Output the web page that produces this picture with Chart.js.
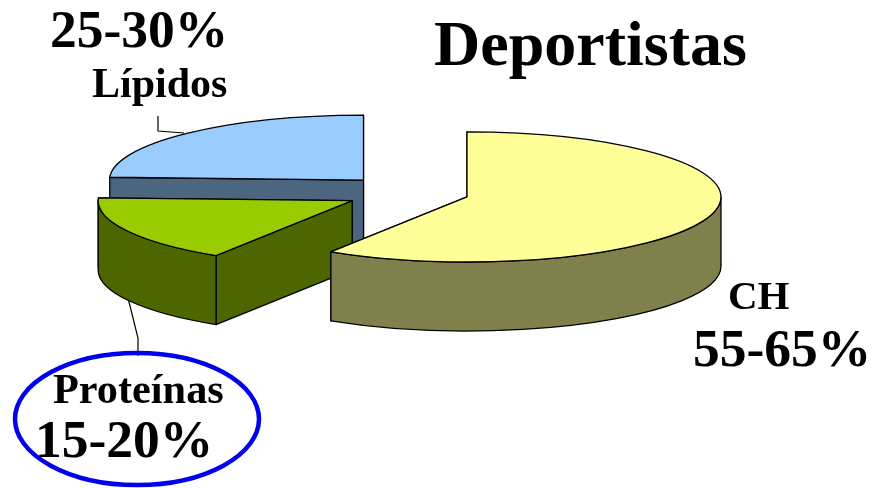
<!DOCTYPE html>
<html>
<head>
<meta charset="utf-8">
<title>Deportistas</title>
<style>
  html, body { margin: 0; padding: 0; background: #fff; }
  #wrap { width: 880px; height: 488px; }
</style>
<script src="https://cdn.jsdelivr.net/npm/chart.js@4"></script>
</head>
<body>
<div id="wrap"><canvas id="pie" width="880" height="488"></canvas></div>
<script>
// Nutrient shares for athletes
const categories = ['CH', 'Proteínas', 'Lípidos'];
const shares = [59, 16.7, 24.3];
const ranges = ['55-65%', '15-20%', '25-30%'];
const topColors = ['#FFFF99', '#99CC00', '#99CCFF'];
const wallColors = ['#80804D', '#4D6600', '#4D6680'];
const explode = [58.3, 66.4, 68.7];
const paintOrder = [2, 1, 0];

// Pseudo-3D shape of the pie
const tilt = 0.256;
const depth = 69;
const pieRadius = 254;

const serif = '"Liberation Serif", "Times New Roman", serif';

// Text blocks: [string, x, baseline y, font size]
const chartTitle = ['Deportistas', 434, 65, 64];
const captions = [
  [ranges[2], 50, 47, 53.5],
  [categories[2], 92, 97, 42],
  [categories[0], 728, 309, 41],
  [ranges[0], 693, 366, 53.5],
  [categories[1], 53, 403, 42.3],
  [ranges[1], 35, 457, 53.5]
];
const leaders = [
  [[158, 116], [158, 131], [184, 133]],
  [[128, 298], [138, 338], [138, 356]]
];
const highlight = { x: 137, y: 419, rx: 122, ry: 66, color: '#0000EE', width: 4.5 };

function sliceGeometry(arc, i) {
  const mid = (arc.startAngle + arc.endAngle) / 2;
  const cx = arc.x + Math.cos(mid) * explode[i];
  const cy = arc.y + Math.sin(mid) * explode[i] * tilt;
  return { cx, cy, rx: arc.outerRadius, ry: arc.outerRadius * tilt, mid };
}

function drawSlice(ctx, arc, i) {
  const g = sliceGeometry(arc, i);
  const px = a => g.cx + Math.cos(a) * g.rx;
  const py = a => g.cy + Math.sin(a) * g.ry;

  ctx.lineWidth = 1.3;
  ctx.lineJoin = 'round';
  ctx.strokeStyle = '#000';
  ctx.fillStyle = wallColors[i];

  // Flat cut faces, far one first; the curved rim covers them where they face away
  [arc.startAngle, arc.endAngle].sort((a, b) => py(a) - py(b)).forEach(a => {
    ctx.beginPath();
    ctx.moveTo(g.cx, g.cy);
    ctx.lineTo(px(a), py(a));
    ctx.lineTo(px(a), py(a) + depth);
    ctx.lineTo(g.cx, g.cy + depth);
    ctx.closePath();
    ctx.fill();
    ctx.stroke();
  });

  // Curved rim, only the half turned towards the viewer
  const from = Math.max(arc.startAngle, 0);
  const to = Math.min(arc.endAngle, Math.PI);
  if (to > from) {
    ctx.beginPath();
    ctx.ellipse(g.cx, g.cy, g.rx, g.ry, 0, from, to);
    ctx.lineTo(px(to), py(to) + depth);
    ctx.ellipse(g.cx, g.cy + depth, g.rx, g.ry, 0, to, from, true);
    ctx.closePath();
    ctx.fill();
    ctx.stroke();
  }

  // Top face: the library's own arc, flattened onto the tilted plane
  ctx.save();
  ctx.translate(g.cx, g.cy);
  ctx.scale(1, tilt);
  ctx.translate(-arc.x, -arc.y);
  arc.draw(ctx);
  ctx.restore();

  ctx.beginPath();
  ctx.moveTo(g.cx, g.cy);
  ctx.ellipse(g.cx, g.cy, g.rx, g.ry, 0, arc.startAngle, arc.endAngle);
  ctx.closePath();
  ctx.stroke();
}

const tiltedPie = {
  id: 'tiltedPie',
  beforeDatasetDraw(chart, args) {
    const ctx = chart.ctx;
    const arcs = args.meta.data;

    ctx.save();
    ctx.strokeStyle = '#000';
    ctx.lineWidth = 1.2;
    leaders.forEach(line => {
      ctx.beginPath();
      line.forEach(([x, y], k) => (k ? ctx.lineTo(x, y) : ctx.moveTo(x, y)));
      ctx.stroke();
    });
    paintOrder.forEach(i => drawSlice(ctx, arcs[i], i));

    ctx.strokeStyle = highlight.color;
    ctx.lineWidth = highlight.width;
    ctx.beginPath();
    ctx.ellipse(highlight.x, highlight.y, highlight.rx, highlight.ry, 0, 0, Math.PI * 2);
    ctx.stroke();

    ctx.fillStyle = '#000';
    ctx.textAlign = 'left';
    ctx.textBaseline = 'alphabetic';
    [chartTitle, ...captions].forEach(([text, x, y, size]) => {
      ctx.font = `bold ${size}px ${serif}`;
      ctx.fillText(text, x, y);
    });
    ctx.restore();
    return false;
  }
};

new Chart(document.getElementById('pie'), {
  type: 'pie',
  data: {
    labels: categories,
    datasets: [{
      data: shares,
      backgroundColor: topColors,
      borderWidth: 0,
      radius: pieRadius
    }]
  },
  options: {
    responsive: false,
    animation: false,
    layout: { padding: { right: 58, bottom: 102.4 } },
    plugins: { legend: { display: false }, tooltip: { enabled: false }, title: { display: false } }
  },
  plugins: [tiltedPie]
});
</script>
</body>
</html>
